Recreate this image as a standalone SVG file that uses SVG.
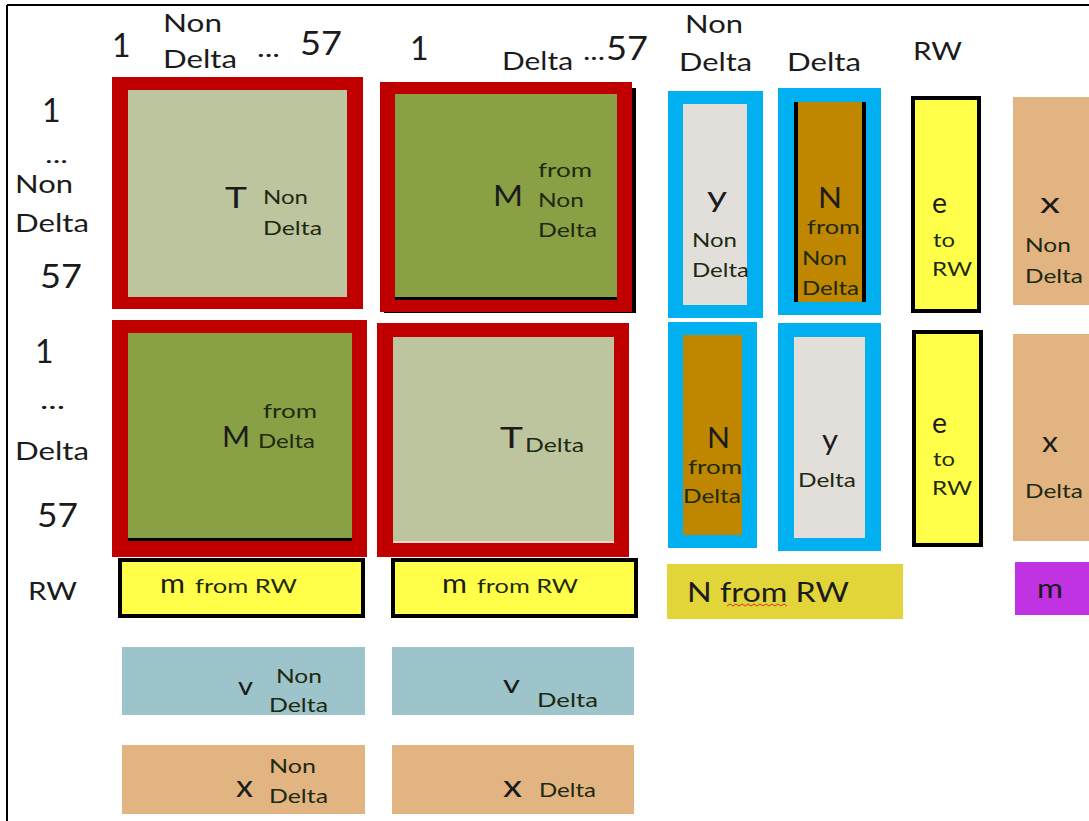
<svg xmlns="http://www.w3.org/2000/svg" width="1089" height="821" viewBox="0 0 1089 821">
<style>
text{font-family:Lato,"Open Sans","DejaVu Sans",sans-serif;fill:#1b1b1b}
.h{font-size:25px}
.n{font-size:32px}
.s{font-size:19px;fill:#1e2a10}
.b{font-size:28px}
.red{fill:#c00000}
.tg{fill:#bdc59f}
.mg{fill:#8aa045}
.blue{fill:#00b0f0}
.gray{fill:#e2dfda}
.brown{fill:#bf8600}
.yel{fill:#ffff4a;stroke:#000;stroke-width:4}
.tan{fill:#e1b482}
.teal{fill:#9dc3cb}
.blk{fill:#000}
</style>
<rect x="0" y="0" width="1089" height="821" fill="#fff"/>
<path d="M7 5H1089M7 5V821" stroke="#000" stroke-width="2" fill="none"/>

<g id="col-headers">
<text class="n" x="112" y="57">1</text>
<text class="h" x="163" y="32" textLength="59" lengthAdjust="spacingAndGlyphs">Non</text>
<text class="h" x="163" y="68" textLength="74" lengthAdjust="spacingAndGlyphs">Delta</text>
<text class="h" x="257" y="57" textLength="23" lengthAdjust="spacingAndGlyphs">...</text>
<text class="n" x="300" y="55" textLength="42" lengthAdjust="spacingAndGlyphs">57</text>
<text class="n" x="410" y="60">1</text>
<text class="h" x="502" y="70" textLength="71" lengthAdjust="spacingAndGlyphs">Delta</text>
<text class="h" x="583" y="60" textLength="22" lengthAdjust="spacingAndGlyphs">...</text>
<text class="n" x="606" y="60" textLength="42" lengthAdjust="spacingAndGlyphs">57</text>
<text class="h" x="685" y="33" textLength="58" lengthAdjust="spacingAndGlyphs">Non</text>
<text class="h" x="679" y="71" textLength="73" lengthAdjust="spacingAndGlyphs">Delta</text>
<text class="h" x="787" y="71" textLength="74" lengthAdjust="spacingAndGlyphs">Delta</text>
<text class="h" x="913" y="60" textLength="49" lengthAdjust="spacingAndGlyphs">RW</text>
</g>

<g id="row-headers">
<text class="n" x="42" y="122">1</text>
<text x="45" y="163" style="font-size:24px" textLength="23" lengthAdjust="spacingAndGlyphs">...</text>
<text class="h" x="15" y="193" textLength="58" lengthAdjust="spacingAndGlyphs">Non</text>
<text class="h" x="15" y="232" textLength="74" lengthAdjust="spacingAndGlyphs">Delta</text>
<text class="n" x="40" y="288" textLength="42" lengthAdjust="spacingAndGlyphs">57</text>
<text class="n" x="35" y="363">1</text>
<text class="h" x="40" y="409" textLength="25" lengthAdjust="spacingAndGlyphs">...</text>
<text class="h" x="15" y="460" textLength="74" lengthAdjust="spacingAndGlyphs">Delta</text>
<text class="n" x="37" y="527" textLength="41" lengthAdjust="spacingAndGlyphs">57</text>
<text class="h" x="28" y="600" textLength="49" lengthAdjust="spacingAndGlyphs">RW</text>
</g>

<g id="T-nondelta">
<rect class="red" x="112" y="77" width="251" height="232"/>
<rect class="tg" x="128" y="90" width="219" height="207"/>
<text class="b" x="225" y="208" textLength="22" lengthAdjust="spacingAndGlyphs">T</text>
<text class="s" x="263" y="204" textLength="45" lengthAdjust="spacingAndGlyphs">Non</text>
<text class="s" x="263" y="235" textLength="59" lengthAdjust="spacingAndGlyphs">Delta</text>
</g>

<g id="M-from-nondelta">
<rect class="blk" x="384" y="88" width="252" height="225"/>
<rect class="red" x="380" y="82" width="252" height="230"/>
<rect class="mg" x="395" y="94" width="222" height="204"/>
<rect class="blk" x="395" y="297" width="222" height="3"/>
<text class="b" x="493" y="206" textLength="30" lengthAdjust="spacingAndGlyphs">M</text>
<text class="s" x="538" y="177" textLength="54" lengthAdjust="spacingAndGlyphs">from</text>
<text class="s" x="538" y="207" textLength="46" lengthAdjust="spacingAndGlyphs">Non</text>
<text class="s" x="538" y="237" textLength="59" lengthAdjust="spacingAndGlyphs">Delta</text>
</g>

<g id="M-from-delta">
<rect class="red" x="112" y="320" width="255" height="237"/>
<rect class="mg" x="128" y="333" width="224" height="206"/>
<rect class="blk" x="128" y="538" width="224" height="3"/>
<text class="b" x="222" y="447" textLength="28" lengthAdjust="spacingAndGlyphs">M</text>
<text class="s" x="263" y="418" textLength="54" lengthAdjust="spacingAndGlyphs">from</text>
<text class="s" x="258" y="448" textLength="57" lengthAdjust="spacingAndGlyphs">Delta</text>
</g>

<g id="T-delta">
<rect class="red" x="377" y="323" width="252" height="234"/>
<rect class="tg" x="393" y="337" width="221" height="206"/>
<rect fill="#f0d8d0" x="393" y="541" width="221" height="2"/>
<text class="b" x="500" y="448" textLength="23" lengthAdjust="spacingAndGlyphs">T</text>
<text class="s" x="525" y="452" textLength="59" lengthAdjust="spacingAndGlyphs">Delta</text>
</g>

<g id="m-from-rw-nondelta">
<rect class="yel" x="120" y="560" width="243" height="56"/>
<text x="160" y="593" style="font-size:27px" textLength="25" lengthAdjust="spacingAndGlyphs">m</text>
<text class="s" x="195" y="593" textLength="102" lengthAdjust="spacingAndGlyphs">from RW</text>
</g>

<g id="m-from-rw-delta">
<rect class="yel" x="393" y="560" width="243" height="56"/>
<text x="442" y="593" style="font-size:27px" textLength="25" lengthAdjust="spacingAndGlyphs">m</text>
<text class="s" x="477" y="593" textLength="101" lengthAdjust="spacingAndGlyphs">from RW</text>
</g>

<g id="y-nondelta">
<rect class="blue" x="668" y="91" width="95" height="227"/>
<rect class="gray" x="683" y="104" width="64" height="201"/>
<text class="b" x="707" y="207" textLength="20" lengthAdjust="spacingAndGlyphs">y</text>
<text class="s" x="692" y="247" textLength="45" lengthAdjust="spacingAndGlyphs">Non</text>
<text class="s" x="692" y="277" textLength="57" lengthAdjust="spacingAndGlyphs">Delta</text>
</g>

<g id="N-from-nondelta">
<rect class="blue" x="778" y="88" width="103" height="227"/>
<rect class="brown" x="794" y="102" width="71" height="200"/>
<rect class="blk" x="794" y="102" width="4" height="200"/>
<rect class="blk" x="862" y="102" width="4" height="200"/>
<text class="b" x="818" y="208" textLength="24" lengthAdjust="spacingAndGlyphs">N</text>
<text class="s" x="807" y="234" textLength="53" lengthAdjust="spacingAndGlyphs">from</text>
<text class="s" x="802" y="265" textLength="45" lengthAdjust="spacingAndGlyphs">Non</text>
<text class="s" x="802" y="295" textLength="57" lengthAdjust="spacingAndGlyphs">Delta</text>
</g>

<g id="e-to-rw-nondelta">
<rect class="yel" x="913" y="98" width="66" height="213"/>
<text class="b" x="932" y="213" textLength="15" lengthAdjust="spacingAndGlyphs">e</text>
<text class="s" x="933" y="247" textLength="22" lengthAdjust="spacingAndGlyphs">to</text>
<text class="s" x="932" y="276" textLength="40" lengthAdjust="spacingAndGlyphs">RW</text>
</g>

<g id="x-nondelta">
<rect class="tan" x="1013" y="97" width="76" height="208"/>
<text class="b" x="1040" y="213" textLength="20" lengthAdjust="spacingAndGlyphs">x</text>
<text class="s" x="1025" y="252" textLength="46" lengthAdjust="spacingAndGlyphs">Non</text>
<text class="s" x="1025" y="283" textLength="58" lengthAdjust="spacingAndGlyphs">Delta</text>
</g>

<g id="N-from-delta">
<rect class="blue" x="668" y="322" width="89" height="226"/>
<rect class="brown" x="683" y="335" width="59" height="200"/>
<text class="b" x="707" y="448" textLength="23" lengthAdjust="spacingAndGlyphs">N</text>
<text class="s" x="688" y="474" textLength="54" lengthAdjust="spacingAndGlyphs">from</text>
<text class="s" x="683" y="503" textLength="58" lengthAdjust="spacingAndGlyphs">Delta</text>
</g>

<g id="y-delta">
<rect class="blue" x="778" y="323" width="103" height="228"/>
<rect class="gray" x="794" y="337" width="71" height="201"/>
<text class="b" x="822" y="450" textLength="16" lengthAdjust="spacingAndGlyphs">y</text>
<text class="s" x="798" y="487" textLength="58" lengthAdjust="spacingAndGlyphs">Delta</text>
</g>

<g id="e-to-rw-delta">
<rect class="yel" x="914" y="332" width="67" height="213"/>
<text class="b" x="932" y="433" textLength="15" lengthAdjust="spacingAndGlyphs">e</text>
<text class="s" x="933" y="466" textLength="22" lengthAdjust="spacingAndGlyphs">to</text>
<text class="s" x="932" y="495" textLength="40" lengthAdjust="spacingAndGlyphs">RW</text>
</g>

<g id="x-delta">
<rect class="tan" x="1013" y="334" width="76" height="207"/>
<text class="b" x="1042" y="452" textLength="16" lengthAdjust="spacingAndGlyphs">x</text>
<text class="s" x="1025" y="498" textLength="58" lengthAdjust="spacingAndGlyphs">Delta</text>
</g>

<g id="N-from-rw">
<rect fill="#e1d53a" x="667" y="564" width="236" height="55"/>
<text x="687" y="602" style="font-size:26px" textLength="162" lengthAdjust="spacingAndGlyphs">N from RW</text>
<path d="M727 606l3 -2 3 2 3 -2 3 2 3 -2 3 2 3 -2 3 2 3 -2 3 2 3 -2 3 2 3 -2 3 2 3 -2 3 2 3 -2 3 2 3 -2 3 2" fill="none" stroke="#e03030" stroke-width="1"/>
</g>

<g id="m-total">
<rect fill="#c032e2" x="1015" y="562" width="74" height="53"/>
<text x="1037" y="598" style="font-size:27px" textLength="26" lengthAdjust="spacingAndGlyphs">m</text>
</g>

<g id="v-nondelta">
<rect class="teal" x="122" y="647" width="243" height="68"/>
<text x="238" y="695" style="font-size:25px" textLength="15" lengthAdjust="spacingAndGlyphs">v</text>
<text class="s" x="276" y="683" textLength="46" lengthAdjust="spacingAndGlyphs">Non</text>
<text class="s" x="269" y="712" textLength="59" lengthAdjust="spacingAndGlyphs">Delta</text>
</g>

<g id="v-delta">
<rect class="teal" x="392" y="647" width="242" height="68"/>
<text x="503" y="693" style="font-size:25px" textLength="17" lengthAdjust="spacingAndGlyphs">v</text>
<text class="s" x="537" y="707" textLength="61" lengthAdjust="spacingAndGlyphs">Delta</text>
</g>

<g id="x-nondelta-bottom">
<rect class="tan" x="122" y="745" width="243" height="69"/>
<text x="236" y="797" style="font-size:30px" textLength="17" lengthAdjust="spacingAndGlyphs">x</text>
<text class="s" x="269" y="773" textLength="47" lengthAdjust="spacingAndGlyphs">Non</text>
<text class="s" x="269" y="803" textLength="59" lengthAdjust="spacingAndGlyphs">Delta</text>
</g>

<g id="x-delta-bottom">
<rect class="tan" x="392" y="745" width="242" height="69"/>
<text x="503" y="797" style="font-size:30px" textLength="19" lengthAdjust="spacingAndGlyphs">x</text>
<text class="s" x="539" y="797" textLength="57" lengthAdjust="spacingAndGlyphs">Delta</text>
</g>

<g id="connectors"></g>
</svg>
